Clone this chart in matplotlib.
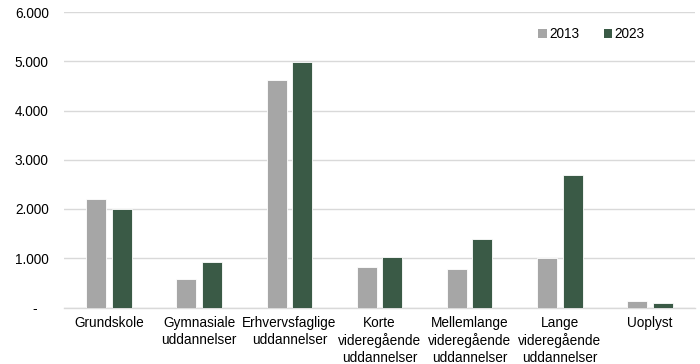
import matplotlib
matplotlib.use("Agg")
import matplotlib.pyplot as plt
import numpy as np
from matplotlib.ticker import FuncFormatter

plt.rcParams['font.family'] = ['Liberation Sans', 'DejaVu Sans']

categories = ["Grundskole", "Gymnasiale\nuddannelser", "Erhvervsfaglige\nuddannelser",
              "Korte\nvideregående\nuddannelser", "Mellemlange\nvideregående\nuddannelser",
              "Lange\nvideregående\nuddannelser", "Uoplyst"]
v2013 = [2212, 580, 4620, 817, 779, 998, 122]
v2023 = [2010, 918, 4978, 1019, 1385, 2683, 101]
series_labels = ["2013", "2023"]
colors = ["#A6A6A6", "#3A5A46"]

fig = plt.figure(figsize=(7, 3.64), dpi=100)
ax = fig.add_axes([64/700, 1-307.5/364, 631/700, (307.5-12)/364])

x = np.arange(len(categories))
w = 0.222
off = 0.142
ax.bar(x - off, v2013, w, color=colors[0], edgecolor="white", linewidth=0.6, label=series_labels[0], zorder=3)
ax.bar(x + off, v2023, w, color=colors[1], edgecolor="white", linewidth=0.6, label=series_labels[1], zorder=3)

ax.set_xlim(-0.5, len(categories) - 0.5)
ax.set_ylim(0, 6000)
ax.set_yticks(np.arange(0, 6001, 1000))
ax.yaxis.set_major_formatter(FuncFormatter(lambda v, p: "-   " if v == 0 else f"{int(v):,}".replace(",", ".")))
ax.grid(axis="y", color="#D9D9D9", linewidth=1, zorder=0)
for s in ["top", "right", "left"]:
    ax.spines[s].set_visible(False)
ax.spines["bottom"].set_color("#D9D9D9")
ax.spines["bottom"].set_linewidth(1)
ax.tick_params(axis="both", length=0, labelsize=9.8, colors="#000000")
ax.tick_params(axis="y", pad=11)
ax.tick_params(axis="x", pad=6)
ax.set_xticks(x)
ax.set_xticklabels(categories, linespacing=1.25)

leg = ax.legend(loc="upper right", bbox_to_anchor=(0.94, 0.99), ncol=2, frameon=False,
                fontsize=9.8, handlelength=0.6, handleheight=0.6, handletextpad=0.2,
                columnspacing=1.8)
for h in leg.legend_handles:
    h.set_edgecolor("none")

fig.savefig("out.png", dpi=100)
